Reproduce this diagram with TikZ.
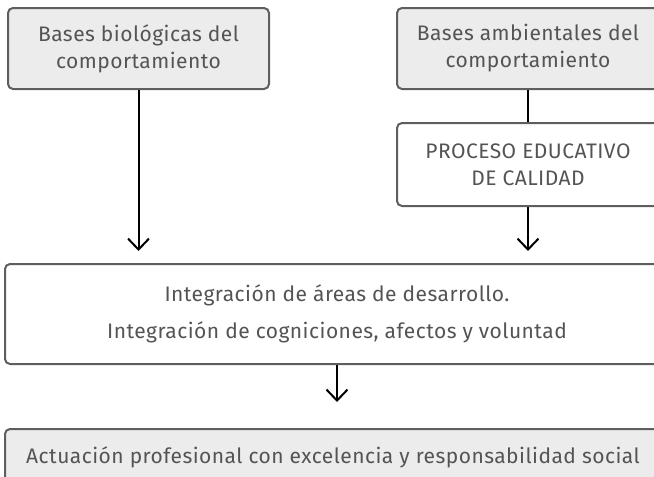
\documentclass[tikz,border=0pt]{standalone}
\usepackage{fontspec}
\setmainfont{Fira Sans}[LetterSpace=2.2]
\usetikzlibrary{arrows.meta}
\newlength{\du}
\setlength{\du}{1pt}
\definecolor{cajalinea}{rgb}{0.370000, 0.370000, 0.370000}
\definecolor{cajafondo}{rgb}{0.922000, 0.925000, 0.922000}
\definecolor{cajatexto}{rgb}{0.330000, 0.330000, 0.330000}
\tikzset{
  cajagris/.style={draw=cajalinea, fill=cajafondo, line width=2.000000\du, rounded corners=5\du,
    inner sep=0pt, text=cajatexto, align=center, font=\fontsize{21}{27}\selectfont},
  cajablanca/.style={cajagris, fill=white},
  flecha/.style={line width=2.000000\du, -{Straight Barb[length=11pt,width=21pt]}},
  linea/.style={line width=2.000000\du}
}

\begin{document}
\begin{tikzpicture}
\pgftransformxscale{1.000000}
\pgftransformyscale{-1.000000}
\useasboundingbox (0\du,0\du) rectangle (654\du,477\du);
% bases
\node[cajagris, minimum width=261\du, minimum height=81\du] (biologicas) at (138.500000\du,48.500000\du){Bases biológicas del\\comportamiento};
\node[cajagris, minimum width=262\du, minimum height=81\du] (ambientales) at (528.000000\du,48.500000\du){Bases ambientales del\\comportamiento};
% proceso
\node[cajablanca, minimum width=262\du, minimum height=83\du] (proceso) at (528.000000\du,164.500000\du){PROCESO EDUCATIVO\\DE CALIDAD};
% integracion
\node[cajablanca, minimum width=664\du, minimum height=100\du] (integracion) at (337.000000\du,314.000000\du){Integración de áreas de desarrollo.\\[10pt]Integración de cogniciones, afectos y voluntad};
% actuacion
\node[cajagris, minimum width=656\du, minimum height=56\du] (actuacion) at (333.000000\du,457.000000\du){Actuación profesional con excelencia y responsabilidad social};
% conectores
\draw[flecha, shorten >=12pt] (biologicas.south)--(biologicas.south |- integracion.north);
\draw[linea] (ambientales)--(proceso);
\draw[flecha, shorten >=12pt] (proceso.south)--(proceso.south |- integracion.north);
\draw[flecha, shorten >=26pt] (integracion.south)--(integracion.south |- actuacion.north);
\end{tikzpicture}
\end{document}
